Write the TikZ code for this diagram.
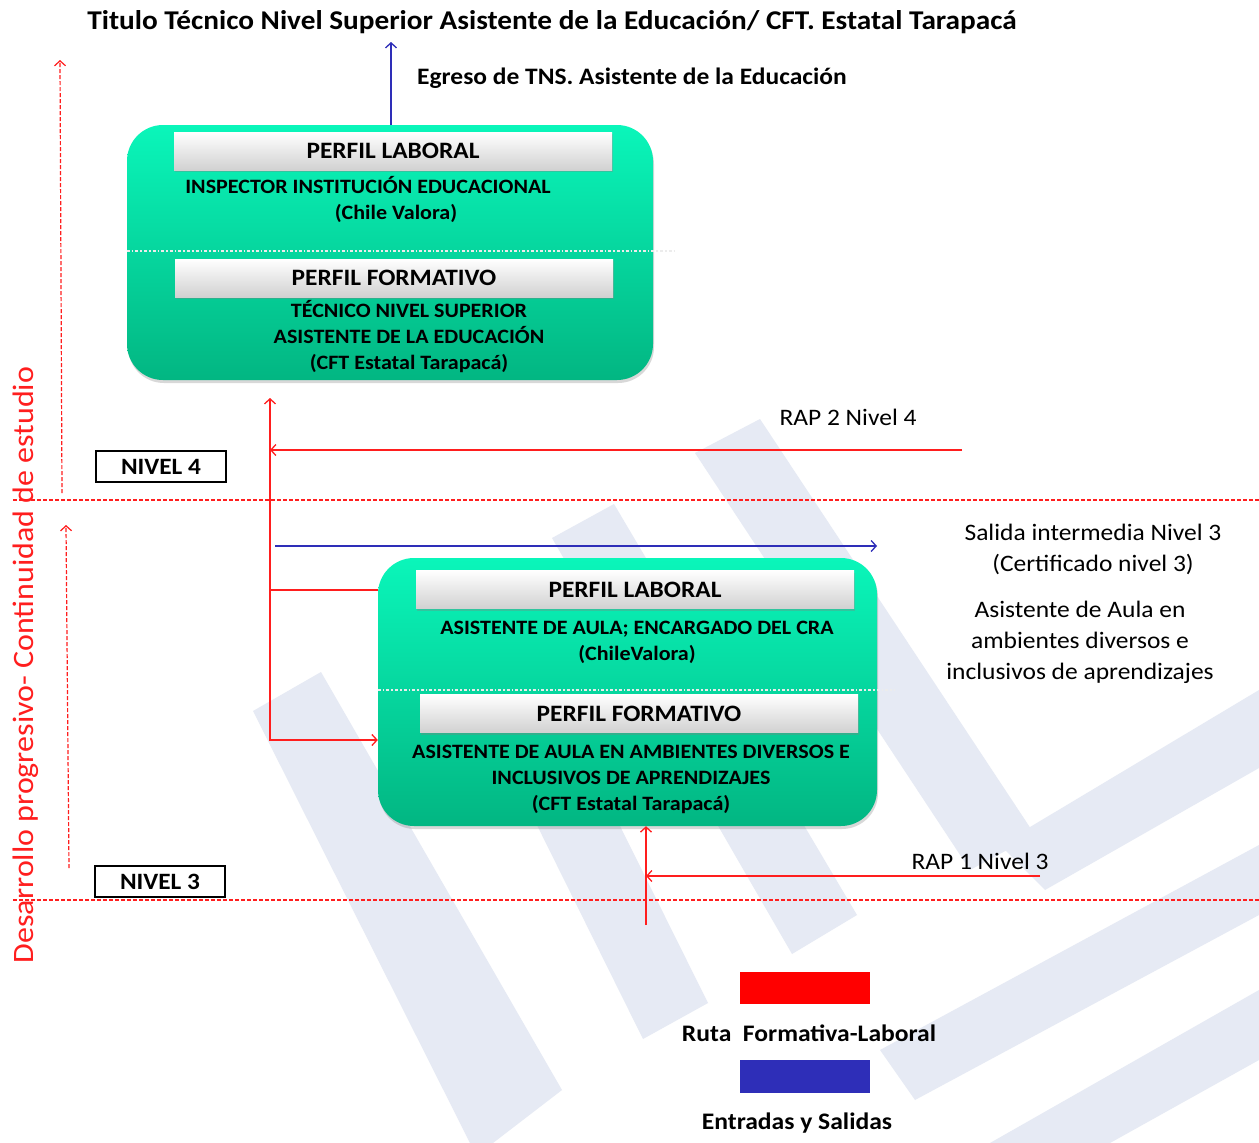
\documentclass[tikz,border=0pt]{standalone}
\usepackage{fontspec}
\setmainfont{Carlito}[FakeStretch=1.08]
\usetikzlibrary{arrows, arrows.meta, shapes, shadows}
\definecolor{verdearriba}{RGB}{10,246,186}
\definecolor{verdeabajo}{RGB}{2,182,130}
\definecolor{azulruta}{RGB}{46,46,184}
\definecolor{rojoruta}{RGB}{255,30,30}
\definecolor{marca}{RGB}{230,234,244}

\begin{document}
\begin{tikzpicture}[x=1pt, y=-1pt, >={Straight Barb[length=5pt, width=11pt]},
  perfil/.style = {rectangle, rounded corners=36pt, draw=none,
    top color=verdearriba, bottom color=verdeabajo,
    drop shadow={opacity=0.3, shadow xshift=1pt, shadow yshift=-3pt}},
  cabecera/.style = {rectangle, minimum width=438pt, minimum height=38pt,
    top color=white, bottom color=black!18,
    drop shadow={opacity=0.35, shadow xshift=1pt, shadow yshift=-2pt},
    font=\bfseries\fontsize{23.5}{25}\selectfont},
  cuerpo/.style = {align=center, inner sep=0pt,
    font=\bfseries\fontsize{20.4}{26}\selectfont},
  nota/.style = {align=center, inner sep=0pt,
    font=\fontsize{23.6}{31}\selectfont},
  nivel/.style = {rectangle, draw, line width=1.5pt, minimum width=130pt,
    minimum height=31pt, font=\bfseries\fontsize{23.4}{25}\selectfont},
  ruta/.style = {draw=rojoruta, line width=1.3pt},
  salida/.style = {draw=azulruta, line width=1.3pt},
  corte/.style = {draw=rojoruta, line width=1.2pt, dash pattern=on 4pt off 2pt},
  divisor/.style = {draw=white!85!gray, line width=1.6pt, dash dot}]

  \useasboundingbox (0,0) rectangle (1259,1143);
  \fill[white] (0,0) rectangle (1259,1143);

  % marca de agua
  \fill[marca] (253,711) -- (321,672) -- (562,1090) -- (493,1143) -- (470,1143) -- cycle;
  \fill[marca] (470,690) -- (535,655) -- (708,1003) -- (643,1039) -- cycle;
  \fill[marca] (552,538) -- (614,504) -- (857,915) -- (792,954) -- cycle;
  \fill[marca] (695,453) -- (760,419) -- (1035,835) -- (970,870) -- cycle;
  \fill[marca] (1000,845) -- (1259,690) -- (1259,768) -- (1045,890) -- cycle;
  \fill[marca] (880,1050) -- (1259,845) -- (1259,915) -- (915,1100) -- cycle;
  \fill[marca] (990,1143) -- (1259,990) -- (1259,1060) -- (1110,1143) -- cycle;

  % niveles
  \draw[corte] (13,500) -- (1259,500);
  \draw[corte] (13,900) -- (1259,900);
  \draw[corte, ->] (62,493) -- (60,60);
  \draw[corte, ->] (69,868) -- (66,525);
  \node[rotate=90, text=rojoruta, inner sep=0pt, font=\fontsize{29.6}{31}\selectfont]
    (eje) at (26,665) {Desarrollo progresivo- Continuidad de estudio};
  \node[nivel] (n4) at (161,466.5) {NIVEL 4};
  \node[nivel] (n3) at (160,881.5) {NIVEL 3};

  % titulo
  \node[inner sep=0pt, font=\bfseries\fontsize{27.1}{29}\selectfont]
    (titulo) at (552,22) {Titulo Técnico Nivel Superior Asistente de la Educación/ CFT. Estatal Tarapacá};

  % perfil nivel 4
  \node[perfil, minimum width=526pt, minimum height=255pt] (sup) at (390,252.5) {};
  \node[cabecera] (suplab) at (393,151) {PERFIL LABORAL};
  \node[cuerpo, anchor=base] (suplab1) at (368,193) {INSPECTOR INSTITUCIÓN EDUCACIONAL};
  \node[cuerpo, anchor=base] (suplab2) at (396,219) {(Chile Valora)};
  \draw[divisor] (sup.west |- 0,251) -- (677,251);
  \node[cabecera] (supfor) at (394,278) {PERFIL FORMATIVO};
  \node[cuerpo, anchor=base] (supfor1) at (409,369)
    {TÉCNICO NIVEL SUPERIOR\\ASISTENTE DE LA EDUCACIÓN\\(CFT Estatal Tarapacá)};

  % perfil nivel 3
  \node[perfil, minimum width=499pt, minimum height=268pt] (inf) at (627.5,692) {};
  \node[cabecera] (inflab) at (635,589.5) {PERFIL LABORAL};
  \node[cuerpo, anchor=base] (inflab1) at (637,660)
    {ASISTENTE DE AULA; ENCARGADO DEL CRA\\(ChileValora)};
  \draw[divisor] (inf.west |- 0,690) -- (895,690);
  \node[cabecera] (infor) at (639,713.5) {PERFIL FORMATIVO};
  \node[cuerpo, anchor=base] (infor1) at (631,810)
    {ASISTENTE DE AULA EN AMBIENTES DIVERSOS E\\INCLUSIVOS DE APRENDIZAJES\\(CFT Estatal Tarapacá)};

  % egreso
  \coordinate (egreso) at (391,42);
  \draw[salida, ->] (sup.north -| egreso) -- (egreso);
  \node[inner sep=0pt, anchor=west, font=\bfseries\fontsize{23.6}{25}\selectfont]
    (egresotxt) at (417,78) {Egreso de TNS. Asistente de la Educación};

  % ruta formativa-laboral
  \coordinate (c4) at (270,398);
  \coordinate (c3) at (270,590);
  \coordinate (c2) at (270,740);
  \draw[ruta, ->] (c3) -- (c4);
  \draw[ruta] (c3) -- (inf.west |- c3);
  \draw[ruta, ->] (c3) -- (c2) -- (inf.west |- c2);
  \coordinate (rap2) at (962,450);
  \draw[ruta, ->] (rap2) -- (c4 |- rap2);
  \node[nota, anchor=base] (rap2txt) at (848,425) {RAP 2 Nivel 4};
  \coordinate (rap1) at (1040,876);
  \coordinate (c1) at (646,925);
  \draw[ruta, ->] (c1) -- (inf.south -| c1);
  \draw[ruta, ->] (rap1) -- (c1 |- rap1);
  \node[nota, anchor=base] (rap1txt) at (980,869) {RAP 1 Nivel 3};

  % salida intermedia
  \coordinate (s3ini) at (275,546);
  \coordinate (s3fin) at (877,546);
  \draw[salida, ->] (s3ini) -- (s3fin);
  \node[nota, anchor=base] (s3txt) at (1093,571)
    {Salida intermedia Nivel 3\\(Certificado nivel 3)};
  \node[nota, anchor=base] (s3perfil) at (1080,679)
    {Asistente de Aula en\\ambientes diversos e\\inclusivos de aprendizajes};

  % leyenda
  \node[fill=red, minimum width=130pt, minimum height=32pt, inner sep=0pt] (legroja) at (805,988) {};
  \node[cuerpo, font=\bfseries\fontsize{23.7}{25}\selectfont] (legrojatxt) at (809,1033) {Ruta\ \ Formativa-Laboral};
  \node[fill=azulruta, minimum width=130pt, minimum height=33pt, inner sep=0pt] (legazul) at (805,1076.5) {};
  \node[cuerpo, font=\bfseries\fontsize{23.7}{25}\selectfont] (legazultxt) at (797,1123) {Entradas y Salidas};
\end{tikzpicture}
\end{document}
